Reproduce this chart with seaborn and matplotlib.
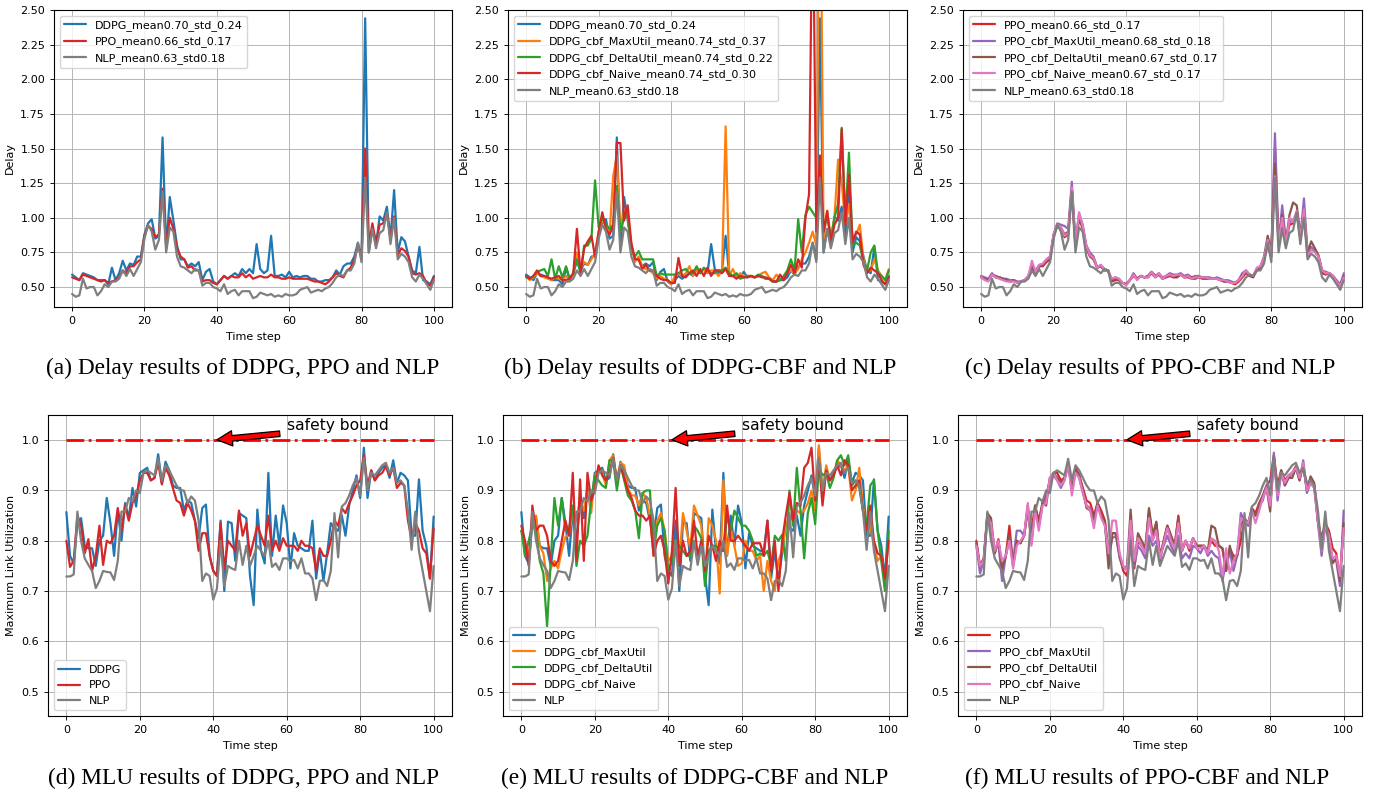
import matplotlib
matplotlib.use("Agg")
import matplotlib.pyplot as plt
from matplotlib.ticker import MultipleLocator
import seaborn as sns

STEPS = list(range(101))

# ---- Delay (top row) ----
delay_nlp = [
    0.45, 0.43, 0.44, 0.56, 0.49, 0.50, 0.50, 0.44, 0.47, 0.52,
    0.50, 0.54, 0.54, 0.56, 0.62, 0.58, 0.63, 0.58, 0.63, 0.68,
    0.85, 0.95, 0.90, 0.77, 0.84, 1.19, 0.75, 0.93, 0.90, 0.72,
    0.65, 0.64, 0.62, 0.60, 0.63, 0.62, 0.51, 0.53, 0.53, 0.50,
    0.49, 0.47, 0.52, 0.45, 0.47, 0.48, 0.44, 0.47, 0.47, 0.47,
    0.42, 0.43, 0.46, 0.45, 0.44, 0.45, 0.43, 0.44, 0.43, 0.45,
    0.44, 0.44, 0.45, 0.48, 0.49, 0.50, 0.46, 0.47, 0.48, 0.47,
    0.49, 0.50, 0.53, 0.57, 0.59, 0.58, 0.62, 0.62, 0.67, 0.82,
    0.68, 1.29, 0.75, 0.92, 0.78, 0.89, 0.91, 1.04, 0.81, 1.00,
    0.70, 0.74, 0.72, 0.68, 0.57, 0.54, 0.59, 0.56, 0.52, 0.48,
    0.55]
delay_ppo = [
    0.57, 0.56, 0.55, 0.59, 0.58, 0.57, 0.56, 0.55, 0.54, 0.55,
    0.53, 0.54, 0.55, 0.57, 0.62, 0.60, 0.65, 0.65, 0.68, 0.70,
    0.87, 0.94, 0.92, 0.86, 0.88, 1.21, 0.80, 1.00, 0.92, 0.78,
    0.72, 0.70, 0.64, 0.65, 0.62, 0.62, 0.54, 0.55, 0.55, 0.53,
    0.52, 0.55, 0.58, 0.56, 0.58, 0.57, 0.57, 0.60, 0.57, 0.59,
    0.56, 0.57, 0.58, 0.57, 0.57, 0.59, 0.57, 0.57, 0.56, 0.56,
    0.57, 0.56, 0.56, 0.56, 0.56, 0.56, 0.55, 0.54, 0.54, 0.53,
    0.52, 0.54, 0.57, 0.60, 0.58, 0.57, 0.62, 0.64, 0.70, 0.80,
    0.72, 1.50, 0.80, 0.96, 0.82, 0.95, 0.96, 1.04, 0.85, 1.01,
    0.73, 0.78, 0.76, 0.72, 0.60, 0.59, 0.60, 0.58, 0.53, 0.51,
    0.57]
delay_ddpg = [
    0.59, 0.57, 0.55, 0.60, 0.59, 0.58, 0.57, 0.55, 0.55, 0.55,
    0.52, 0.64, 0.55, 0.60, 0.69, 0.62, 0.67, 0.66, 0.72, 0.72,
    0.88, 0.96, 0.99, 0.85, 0.87, 1.58, 0.78, 1.15, 0.98, 0.80,
    0.70, 0.70, 0.65, 0.67, 0.65, 0.68, 0.55, 0.61, 0.63, 0.54,
    0.52, 0.55, 0.58, 0.56, 0.58, 0.60, 0.58, 0.63, 0.60, 0.63,
    0.60, 0.81, 0.63, 0.60, 0.62, 0.87, 0.58, 0.58, 0.59, 0.57,
    0.61, 0.57, 0.58, 0.57, 0.58, 0.58, 0.56, 0.56, 0.54, 0.54,
    0.55, 0.55, 0.57, 0.62, 0.59, 0.65, 0.67, 0.67, 0.72, 0.82,
    0.70, 2.44, 0.75, 0.92, 0.80, 1.01, 0.98, 1.08, 0.85, 1.20,
    0.75, 0.86, 0.83, 0.72, 0.62, 0.60, 0.79, 0.55, 0.54, 0.52,
    0.58]
delay_ddpg_maxutil = [
    0.58, 0.55, 0.57, 0.60, 0.58, 0.57, 0.56, 0.55, 0.57, 0.56,
    0.55, 0.58, 0.55, 0.60, 0.75, 0.63, 0.68, 0.66, 0.70, 0.75,
    0.90, 0.98, 0.95, 0.88, 1.30, 1.45, 0.90, 1.05, 1.00, 0.80,
    0.68, 0.72, 0.65, 0.63, 0.62, 0.60, 0.56, 0.58, 0.56, 0.55,
    0.52, 0.58, 0.60, 0.58, 0.60, 0.65, 0.58, 0.62, 0.60, 0.63,
    0.60, 0.62, 0.62, 0.58, 0.62, 1.66, 0.58, 0.63, 0.57, 0.60,
    0.58, 0.58, 0.58, 0.57, 0.58, 0.60, 0.61, 0.57, 0.55, 0.59,
    0.56, 0.56, 0.60, 0.62, 0.60, 0.63, 0.70, 0.75, 0.82, 0.90,
    0.80, 4.00, 0.85, 1.05, 0.85, 1.00, 1.42, 1.25, 0.95, 1.10,
    0.85, 0.88, 0.95, 0.70, 0.62, 0.62, 0.70, 0.62, 0.58, 0.55,
    0.63]
delay_ddpg_deltautil = [
    0.57, 0.56, 0.58, 0.61, 0.62, 0.63, 0.58, 0.70, 0.56, 0.65,
    0.57, 0.65, 0.56, 0.60, 0.70, 0.60, 0.80, 0.80, 0.85, 1.27,
    0.93, 1.00, 0.95, 0.92, 0.95, 1.23, 0.90, 1.00, 1.02, 0.78,
    0.72, 0.76, 0.70, 0.70, 0.70, 0.70, 0.58, 0.60, 0.59, 0.59,
    0.59, 0.59, 0.60, 0.62, 0.63, 0.60, 0.60, 0.65, 0.60, 0.64,
    0.62, 0.60, 0.60, 0.62, 0.62, 0.64, 0.60, 0.58, 0.60, 0.56,
    0.57, 0.58, 0.58, 0.57, 0.59, 0.58, 0.56, 0.56, 0.54, 0.54,
    0.55, 0.58, 0.62, 0.70, 0.62, 0.99, 0.75, 1.02, 1.08, 1.04,
    1.00, 1.40, 0.90, 1.02, 0.85, 1.00, 1.10, 1.65, 0.98, 1.47,
    0.80, 0.82, 0.80, 0.68, 0.62, 0.75, 0.80, 0.60, 0.58, 0.55,
    0.62]
delay_ddpg_naive = [
    0.58, 0.56, 0.58, 0.62, 0.58, 0.58, 0.57, 0.56, 0.57, 0.58,
    0.55, 0.55, 0.56, 0.60, 0.92, 0.60, 0.78, 0.83, 0.87, 0.72,
    0.90, 1.04, 0.92, 0.88, 0.94, 1.54, 1.54, 0.98, 1.09, 0.82,
    0.70, 0.70, 0.63, 0.66, 0.62, 0.62, 0.58, 0.56, 0.55, 0.55,
    0.53, 0.53, 0.71, 0.58, 0.57, 0.60, 0.62, 0.58, 0.63, 0.58,
    0.64, 0.58, 0.62, 0.62, 0.60, 0.63, 0.58, 0.58, 0.56, 0.58,
    0.57, 0.57, 0.58, 0.57, 0.58, 0.57, 0.57, 0.56, 0.54, 0.54,
    0.59, 0.55, 0.60, 0.66, 0.60, 0.70, 0.64, 1.00, 1.17, 3.50,
    0.90, 1.45, 0.90, 1.05, 0.82, 0.95, 1.00, 1.64, 0.95, 1.31,
    0.82, 0.90, 0.88, 0.66, 0.60, 0.64, 0.62, 0.60, 0.55, 0.52,
    0.57]
delay_ppo_maxutil = [
    0.58, 0.57, 0.56, 0.60, 0.57, 0.57, 0.56, 0.56, 0.55, 0.55,
    0.54, 0.54, 0.55, 0.58, 0.66, 0.62, 0.66, 0.66, 0.70, 0.72,
    0.88, 0.96, 0.95, 0.94, 0.92, 1.26, 0.82, 1.03, 0.95, 0.80,
    0.75, 0.72, 0.64, 0.66, 0.63, 0.62, 0.55, 0.57, 0.56, 0.53,
    0.52, 0.55, 0.60, 0.56, 0.58, 0.57, 0.58, 0.61, 0.58, 0.60,
    0.57, 0.58, 0.60, 0.59, 0.59, 0.60, 0.58, 0.59, 0.57, 0.58,
    0.58, 0.57, 0.57, 0.57, 0.56, 0.57, 0.56, 0.55, 0.55, 0.54,
    0.53, 0.55, 0.60, 0.62, 0.59, 0.58, 0.63, 0.65, 0.70, 0.82,
    0.75, 1.61, 0.82, 1.09, 0.84, 0.97, 0.98, 1.03, 0.86, 1.14,
    0.74, 0.79, 0.76, 0.72, 0.62, 0.61, 0.60, 0.58, 0.55, 0.52,
    0.60]
delay_ppo_deltautil = [
    0.57, 0.56, 0.55, 0.59, 0.57, 0.57, 0.56, 0.55, 0.54, 0.55,
    0.53, 0.54, 0.55, 0.57, 0.64, 0.60, 0.65, 0.66, 0.69, 0.71,
    0.88, 0.95, 0.93, 0.88, 0.90, 1.20, 0.80, 1.00, 0.93, 0.79,
    0.73, 0.70, 0.64, 0.65, 0.62, 0.62, 0.55, 0.56, 0.55, 0.53,
    0.52, 0.55, 0.59, 0.56, 0.58, 0.57, 0.58, 0.61, 0.58, 0.59,
    0.56, 0.58, 0.59, 0.58, 0.58, 0.59, 0.57, 0.58, 0.57, 0.57,
    0.57, 0.57, 0.57, 0.56, 0.56, 0.56, 0.55, 0.54, 0.54, 0.53,
    0.53, 0.55, 0.59, 0.61, 0.58, 0.58, 0.63, 0.65, 0.72, 0.87,
    0.76, 1.39, 0.82, 1.02, 0.82, 1.02, 1.11, 1.09, 0.88, 1.05,
    0.75, 0.83, 0.78, 0.73, 0.62, 0.60, 0.60, 0.58, 0.54, 0.51,
    0.58]
delay_ppo_naive = [
    0.57, 0.55, 0.54, 0.59, 0.57, 0.56, 0.55, 0.54, 0.54, 0.54,
    0.53, 0.54, 0.55, 0.58, 0.69, 0.61, 0.66, 0.67, 0.70, 0.72,
    0.88, 0.95, 0.93, 0.87, 0.89, 1.22, 0.81, 1.04, 0.94, 0.80,
    0.73, 0.71, 0.64, 0.66, 0.62, 0.62, 0.56, 0.57, 0.56, 0.53,
    0.51, 0.55, 0.59, 0.55, 0.58, 0.57, 0.57, 0.61, 0.57, 0.60,
    0.56, 0.58, 0.59, 0.58, 0.59, 0.59, 0.57, 0.58, 0.56, 0.57,
    0.57, 0.57, 0.57, 0.56, 0.56, 0.56, 0.55, 0.55, 0.54, 0.53,
    0.53, 0.55, 0.58, 0.62, 0.59, 0.58, 0.64, 0.65, 0.71, 0.84,
    0.73, 1.30, 0.82, 1.00, 0.80, 1.00, 0.97, 1.05, 0.85, 1.06,
    0.72, 0.77, 0.75, 0.72, 0.62, 0.60, 0.60, 0.58, 0.54, 0.51,
    0.57]

# ---- Maximum link utilization (bottom row) ----
mlu_nlp = [
    0.729, 0.729, 0.733, 0.858, 0.800, 0.765, 0.752, 0.740, 0.706, 0.720,
    0.740, 0.738, 0.737, 0.722, 0.760, 0.858, 0.858, 0.885, 0.878, 0.900,
    0.895, 0.935, 0.940, 0.935, 0.930, 0.963, 0.920, 0.950, 0.940, 0.925,
    0.910, 0.900, 0.900, 0.875, 0.888, 0.880, 0.840, 0.720, 0.735, 0.730,
    0.683, 0.705, 0.800, 0.710, 0.750, 0.745, 0.742, 0.800, 0.752, 0.790,
    0.750, 0.770, 0.790, 0.780, 0.770, 0.800, 0.748, 0.755, 0.742, 0.765,
    0.765, 0.760, 0.762, 0.745, 0.765, 0.735, 0.735, 0.725, 0.682, 0.720,
    0.722, 0.710, 0.740, 0.855, 0.767, 0.868, 0.875, 0.890, 0.910, 0.925,
    0.890, 0.965, 0.900, 0.935, 0.930, 0.940, 0.950, 0.955, 0.935, 0.945,
    0.915, 0.920, 0.910, 0.860, 0.782, 0.858, 0.780, 0.740, 0.700, 0.660,
    0.750]
mlu_ppo = [
    0.800, 0.748, 0.760, 0.850, 0.830, 0.775, 0.803, 0.740, 0.770, 0.830,
    0.752, 0.800, 0.795, 0.810, 0.865, 0.820, 0.870, 0.840, 0.875, 0.890,
    0.920, 0.935, 0.935, 0.920, 0.925, 0.955, 0.912, 0.945, 0.930, 0.905,
    0.880, 0.875, 0.850, 0.875, 0.860, 0.840, 0.780, 0.815, 0.815, 0.770,
    0.740, 0.730, 0.835, 0.745, 0.800, 0.790, 0.780, 0.860, 0.810, 0.835,
    0.770, 0.800, 0.830, 0.810, 0.790, 0.850, 0.780, 0.800, 0.780, 0.805,
    0.790, 0.790, 0.790, 0.780, 0.800, 0.790, 0.790, 0.785, 0.740, 0.785,
    0.770, 0.770, 0.800, 0.840, 0.830, 0.865, 0.855, 0.875, 0.890, 0.910,
    0.920, 0.970, 0.910, 0.940, 0.920, 0.930, 0.935, 0.948, 0.930, 0.945,
    0.905, 0.915, 0.910, 0.840, 0.805, 0.835, 0.820, 0.785, 0.775, 0.725,
    0.825]
mlu_ddpg = [
    0.857, 0.770, 0.755, 0.835, 0.845, 0.790, 0.785, 0.785, 0.750, 0.800,
    0.810, 0.885, 0.835, 0.770, 0.860, 0.800, 0.875, 0.845, 0.905, 0.868,
    0.935, 0.940, 0.945, 0.920, 0.925, 0.972, 0.915, 0.957, 0.940, 0.910,
    0.905, 0.905, 0.860, 0.880, 0.875, 0.840, 0.805, 0.865, 0.872, 0.770,
    0.740, 0.730, 0.840, 0.700, 0.838, 0.835, 0.760, 0.855, 0.850, 0.845,
    0.730, 0.672, 0.862, 0.780, 0.755, 0.935, 0.770, 0.850, 0.790, 0.870,
    0.835, 0.745, 0.815, 0.790, 0.785, 0.780, 0.780, 0.840, 0.725, 0.780,
    0.720, 0.775, 0.835, 0.825, 0.820, 0.850, 0.810, 0.870, 0.900, 0.930,
    0.885, 0.985, 0.885, 0.940, 0.920, 0.935, 0.945, 0.950, 0.925, 0.960,
    0.915, 0.935, 0.930, 0.920, 0.810, 0.810, 0.922, 0.820, 0.790, 0.725,
    0.848]
mlu_ddpg_maxutil = [
    0.820, 0.795, 0.770, 0.840, 0.850, 0.790, 0.775, 0.720, 0.745, 0.760,
    0.745, 0.780, 0.808, 0.812, 0.860, 0.840, 0.880, 0.860, 0.900, 0.855,
    0.930, 0.940, 0.935, 0.910, 0.960, 0.970, 0.920, 0.955, 0.950, 0.905,
    0.890, 0.890, 0.870, 0.895, 0.885, 0.850, 0.770, 0.840, 0.855, 0.820,
    0.760, 0.770, 0.800, 0.760, 0.855, 0.820, 0.785, 0.870, 0.850, 0.830,
    0.720, 0.845, 0.830, 0.800, 0.695, 0.920, 0.770, 0.825, 0.790, 0.750,
    0.755, 0.800, 0.780, 0.780, 0.760, 0.770, 0.700, 0.760, 0.720, 0.700,
    0.760, 0.780, 0.830, 0.850, 0.840, 0.860, 0.855, 0.860, 0.875, 0.900,
    0.860, 0.990, 0.900, 0.950, 0.920, 0.930, 0.960, 0.950, 0.940, 0.950,
    0.880, 0.900, 0.945, 0.870, 0.820, 0.830, 0.790, 0.760, 0.770, 0.720,
    0.750]
mlu_ddpg_deltautil = [
    0.820, 0.770, 0.800, 0.830, 0.820, 0.760, 0.735, 0.630, 0.760, 0.885,
    0.830, 0.885, 0.820, 0.825, 0.870, 0.750, 0.800, 0.790, 0.810, 0.880,
    0.930, 0.920, 0.910, 0.905, 0.960, 0.960, 0.900, 0.950, 0.920, 0.890,
    0.880, 0.860, 0.805, 0.895, 0.900, 0.900, 0.780, 0.830, 0.845, 0.820,
    0.740, 0.760, 0.800, 0.790, 0.780, 0.770, 0.770, 0.830, 0.820, 0.805,
    0.710, 0.780, 0.790, 0.790, 0.780, 0.780, 0.850, 0.820, 0.860, 0.845,
    0.830, 0.830, 0.820, 0.800, 0.770, 0.775, 0.770, 0.780, 0.750, 0.810,
    0.800, 0.812, 0.760, 0.900, 0.830, 0.945, 0.860, 0.765, 0.855, 0.885,
    0.833, 0.945, 0.930, 0.935, 0.905, 0.925, 0.960, 0.970, 0.950, 0.970,
    0.910, 0.920, 0.905, 0.860, 0.830, 0.910, 0.920, 0.820, 0.760, 0.700,
    0.820]
mlu_ddpg_naive = [
    0.830, 0.800, 0.750, 0.870, 0.820, 0.830, 0.830, 0.810, 0.760, 0.750,
    0.760, 0.800, 0.840, 0.810, 0.935, 0.760, 0.922, 0.760, 0.935, 0.880,
    0.900, 0.950, 0.930, 0.920, 0.935, 0.965, 0.920, 0.950, 0.925, 0.900,
    0.885, 0.860, 0.850, 0.850, 0.840, 0.850, 0.770, 0.800, 0.810, 0.780,
    0.715, 0.780, 0.905, 0.750, 0.800, 0.770, 0.780, 0.840, 0.770, 0.800,
    0.740, 0.810, 0.790, 0.760, 0.800, 0.780, 0.870, 0.800, 0.800, 0.810,
    0.800, 0.790, 0.780, 0.795, 0.795, 0.795, 0.770, 0.840, 0.740, 0.800,
    0.700, 0.800, 0.850, 0.895, 0.840, 0.875, 0.870, 0.945, 0.955, 0.985,
    0.880, 0.960, 0.870, 0.940, 0.920, 0.930, 0.950, 0.930, 0.960, 0.950,
    0.900, 0.910, 0.920, 0.860, 0.820, 0.870, 0.800, 0.775, 0.770, 0.725,
    0.800]
mlu_ppo_maxutil = [
    0.790, 0.735, 0.760, 0.850, 0.830, 0.780, 0.795, 0.720, 0.770, 0.805,
    0.760, 0.820, 0.820, 0.810, 0.860, 0.800, 0.860, 0.830, 0.870, 0.880,
    0.920, 0.930, 0.920, 0.905, 0.920, 0.950, 0.900, 0.935, 0.925, 0.895,
    0.870, 0.865, 0.840, 0.870, 0.850, 0.830, 0.770, 0.805, 0.810, 0.765,
    0.745, 0.750, 0.810, 0.750, 0.790, 0.780, 0.765, 0.810, 0.790, 0.800,
    0.770, 0.790, 0.810, 0.790, 0.775, 0.810, 0.765, 0.775, 0.765, 0.790,
    0.785, 0.775, 0.790, 0.770, 0.780, 0.770, 0.765, 0.720, 0.760, 0.780,
    0.740, 0.770, 0.855, 0.840, 0.830, 0.855, 0.850, 0.870, 0.880, 0.910,
    0.900, 0.975, 0.880, 0.935, 0.910, 0.925, 0.935, 0.945, 0.920, 0.960,
    0.895, 0.915, 0.905, 0.835, 0.770, 0.830, 0.800, 0.760, 0.760, 0.710,
    0.860]
mlu_ppo_deltautil = [
    0.795, 0.750, 0.765, 0.855, 0.845, 0.775, 0.800, 0.745, 0.770, 0.810,
    0.750, 0.800, 0.795, 0.810, 0.870, 0.795, 0.870, 0.830, 0.875, 0.870,
    0.925, 0.935, 0.925, 0.915, 0.925, 0.950, 0.905, 0.940, 0.930, 0.900,
    0.865, 0.860, 0.845, 0.875, 0.850, 0.835, 0.745, 0.815, 0.815, 0.770,
    0.745, 0.745, 0.862, 0.755, 0.815, 0.800, 0.785, 0.865, 0.810, 0.838,
    0.760, 0.800, 0.830, 0.810, 0.790, 0.845, 0.780, 0.800, 0.785, 0.805,
    0.790, 0.790, 0.790, 0.780, 0.830, 0.825, 0.790, 0.785, 0.740, 0.790,
    0.760, 0.770, 0.830, 0.845, 0.835, 0.865, 0.850, 0.870, 0.890, 0.905,
    0.858, 0.965, 0.895, 0.940, 0.910, 0.925, 0.925, 0.945, 0.920, 0.950,
    0.900, 0.928, 0.915, 0.840, 0.790, 0.835, 0.815, 0.755, 0.765, 0.720,
    0.835]
mlu_ppo_naive = [
    0.790, 0.750, 0.760, 0.845, 0.835, 0.780, 0.800, 0.760, 0.770, 0.800,
    0.745, 0.790, 0.800, 0.810, 0.875, 0.790, 0.860, 0.820, 0.870, 0.875,
    0.925, 0.935, 0.920, 0.910, 0.920, 0.955, 0.890, 0.935, 0.925, 0.895,
    0.870, 0.860, 0.825, 0.870, 0.845, 0.830, 0.775, 0.840, 0.840, 0.775,
    0.750, 0.740, 0.840, 0.760, 0.805, 0.790, 0.775, 0.845, 0.800, 0.820,
    0.765, 0.795, 0.825, 0.800, 0.785, 0.835, 0.780, 0.800, 0.785, 0.805,
    0.785, 0.785, 0.790, 0.775, 0.805, 0.800, 0.780, 0.730, 0.785, 0.735,
    0.760, 0.775, 0.845, 0.840, 0.835, 0.860, 0.835, 0.860, 0.885, 0.905,
    0.870, 0.960, 0.890, 0.935, 0.915, 0.930, 0.935, 0.945, 0.925, 0.955,
    0.900, 0.915, 0.905, 0.840, 0.780, 0.830, 0.810, 0.765, 0.770, 0.730,
    0.825]

SAFETY_BOUND = 1.0

C_DDPG, C_PPO, C_NLP = "#1f77b4", "#d62728", "#7f7f7f"
C_MAX, C_DELTA = "#ff7f0e", "#2ca02c"
C_PMAX, C_PDELTA, C_PNAIVE = "#9467bd", "#8c564b", "#e377c2"

W, H = 1374, 795
LW = 1.6
FS = 8

sns.set_style("ticks", {"axes.grid": True, "grid.color": "#b0b0b0",
                        "axes.edgecolor": "black", "text.color": "black",
                        "axes.labelcolor": "black", "xtick.color": "black",
                        "ytick.color": "black"})
plt.rcParams["font.family"] = ["DejaVu Sans"]
plt.rcParams["grid.linewidth"] = 0.65
plt.rcParams["axes.linewidth"] = 0.8
plt.rcParams["xtick.major.size"] = 3
plt.rcParams["ytick.major.size"] = 3
plt.rcParams["xtick.major.width"] = 0.65
plt.rcParams["ytick.major.width"] = 0.65


def px_axes(fig, left, top, right, bottom):
    return fig.add_axes([left / W, 1 - bottom / H, (right - left) / W, (bottom - top) / H])


def draw_series(ax, series):
    for vals, color, label in series:
        sns.lineplot(x=STEPS, y=vals, ax=ax, color=color, label=label, linewidth=LW)


def style_delay(ax):
    ax.set_xlim(-5, 105)
    ax.set_ylim(0.356, 2.5)
    ax.yaxis.set_major_locator(MultipleLocator(0.25))
    ax.set_xlabel("Time step", fontsize=FS)
    ax.set_ylabel("Delay", fontsize=FS)
    ax.tick_params(labelsize=FS)
    ax.legend(loc="upper left", fontsize=FS)


def style_mlu(ax):
    ax.hlines(SAFETY_BOUND, STEPS[0], STEPS[-1], colors="red", linestyles="-.", linewidth=2)
    ax.annotate("safety bound", xy=(40, SAFETY_BOUND), xytext=(60, 1.02), fontsize=11.2,
                arrowprops=dict(facecolor="red", edgecolor="black", shrink=0.05, width=4,
                                headwidth=11, headlength=11, linewidth=0.9))
    ax.set_xlim(-5, 105)
    ax.set_ylim(0.4516, 1.05)
    ax.yaxis.set_major_locator(MultipleLocator(0.1))
    ax.set_xlabel("Time step", fontsize=FS)
    ax.set_ylabel("Maximum Link Utilization", fontsize=FS)
    ax.tick_params(labelsize=FS)
    ax.legend(loc="lower left", fontsize=FS)


fig = plt.figure(figsize=(W / 100, H / 100), dpi=100)

ax_a = px_axes(fig, 54, 10, 452, 307)
draw_series(ax_a, [(delay_ddpg, C_DDPG, "DDPG_mean0.70_std_0.24"),
                   (delay_ppo, C_PPO, "PPO_mean0.66_std_0.17"),
                   (delay_nlp, C_NLP, "NLP_mean0.63_std0.18")])
style_delay(ax_a)

ax_b = px_axes(fig, 508, 10, 907, 307)
draw_series(ax_b, [(delay_ddpg, C_DDPG, "DDPG_mean0.70_std_0.24"),
                   (delay_ddpg_maxutil, C_MAX, "DDPG_cbf_MaxUtil_mean0.74_std_0.37"),
                   (delay_ddpg_deltautil, C_DELTA, "DDPG_cbf_DeltaUtil_mean0.74_std_0.22"),
                   (delay_ddpg_naive, C_PPO, "DDPG_cbf_Naive_mean0.74_std_0.30"),
                   (delay_nlp, C_NLP, "NLP_mean0.63_std0.18")])
style_delay(ax_b)

ax_c = px_axes(fig, 963, 10, 1362, 307)
draw_series(ax_c, [(delay_ppo, C_PPO, "PPO_mean0.66_std_0.17"),
                   (delay_ppo_maxutil, C_PMAX, "PPO_cbf_MaxUtil_mean0.68_std_0.18"),
                   (delay_ppo_deltautil, C_PDELTA, "PPO_cbf_DeltaUtil_mean0.67_std_0.17"),
                   (delay_ppo_naive, C_PNAIVE, "PPO_cbf_Naive_mean0.67_std_0.17"),
                   (delay_nlp, C_NLP, "NLP_mean0.63_std0.18")])
style_delay(ax_c)

ax_d = px_axes(fig, 48, 415, 452, 716)
draw_series(ax_d, [(mlu_ddpg, C_DDPG, "DDPG"),
                   (mlu_ppo, C_PPO, "PPO"),
                   (mlu_nlp, C_NLP, "NLP")])
style_mlu(ax_d)

ax_e = px_axes(fig, 503, 415, 907, 716)
draw_series(ax_e, [(mlu_ddpg, C_DDPG, "DDPG"),
                   (mlu_ddpg_maxutil, C_MAX, "DDPG_cbf_MaxUtil"),
                   (mlu_ddpg_deltautil, C_DELTA, "DDPG_cbf_DeltaUtil"),
                   (mlu_ddpg_naive, C_PPO, "DDPG_cbf_Naive"),
                   (mlu_nlp, C_NLP, "NLP")])
style_mlu(ax_e)

ax_f = px_axes(fig, 958, 415, 1362, 716)
draw_series(ax_f, [(mlu_ppo, C_PPO, "PPO"),
                   (mlu_ppo_maxutil, C_PMAX, "PPO_cbf_MaxUtil"),
                   (mlu_ppo_deltautil, C_PDELTA, "PPO_cbf_DeltaUtil"),
                   (mlu_ppo_naive, C_PNAIVE, "PPO_cbf_Naive"),
                   (mlu_nlp, C_NLP, "NLP")])
style_mlu(ax_f)

# sub-captions
captions = [
    (243, 368, "(a) Delay results of DDPG, PPO and NLP"),
    (700, 368, "(b) Delay results of DDPG-CBF and NLP"),
    (1150, 368, "(c) Delay results of PPO-CBF and NLP"),
    (243, 778, "(d) MLU results of DDPG, PPO and NLP"),
    (695, 778, "(e) MLU results of DDPG-CBF and NLP"),
    (1147, 778, "(f) MLU results of PPO-CBF and NLP"),
]
for cx, cy, txt in captions:
    fig.text(cx / W, 1 - cy / H, txt, ha="center", va="center", color="black",
             fontsize=16.8, family=["Liberation Serif", "DejaVu Serif"])

fig.savefig("out.png", dpi=100)
